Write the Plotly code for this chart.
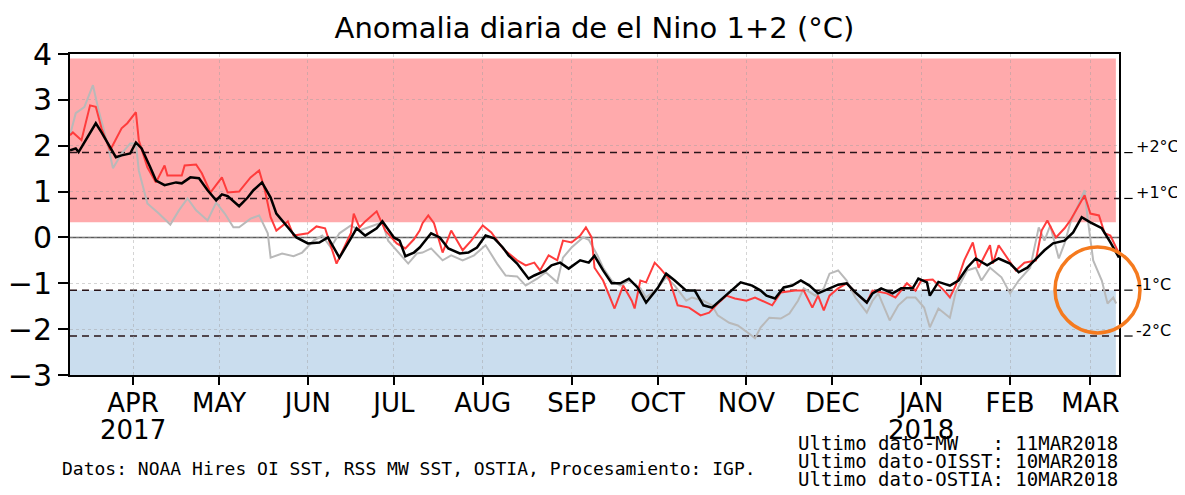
import pandas as pd
import plotly.graph_objects as go

START = "2017-03-10"

# days since 2017-03-10 and anomaly values (°C)
black_days = [0, 2, 3, 6, 9, 11, 14, 16, 18, 21, 23, 25, 28, 30, 33, 37, 39, 42, 45, 48, 51, 53, 55, 59, 62, 64, 67, 70, 72, 76, 79, 83, 87, 90, 94, 98, 100, 103, 107, 109, 113, 115, 117, 120, 122, 126, 129, 132, 136, 139, 142, 145, 148, 151, 153, 156, 160, 162, 166, 168, 171, 174, 178, 181, 183, 186, 189, 192, 195, 198, 201, 205, 208, 211, 215, 218, 221, 224, 228, 231, 234, 238, 241, 243, 246, 249, 252, 255, 258, 261, 265, 268, 271, 274, 278, 280, 283, 287, 290, 294, 296, 299, 300, 303, 307, 310, 313, 316, 320, 324, 328, 331, 334, 337, 340, 343, 347, 350, 353, 356, 360, 363, 366]
black_vals = [1.90, 1.94, 1.86, 2.18, 2.49, 2.29, 1.97, 1.75, 1.79, 1.83, 2.07, 1.94, 1.53, 1.24, 1.14, 1.20, 1.18, 1.31, 1.29, 1.03, 0.81, 0.94, 0.90, 0.68, 0.87, 1.03, 1.20, 0.87, 0.52, 0.22, 0.0, -0.13, -0.11, 0.0, -0.44, -0.02, 0.20, 0.04, 0.20, 0.35, 0.0, -0.07, -0.41, -0.33, -0.22, 0.09, 0.0, -0.24, -0.35, -0.33, -0.22, 0.04, -0.02, -0.22, -0.39, -0.57, -0.90, -0.83, -0.72, -0.61, -0.55, -0.68, -0.50, -0.55, -0.40, -0.72, -1.00, -1.00, -0.90, -1.09, -1.42, -1.11, -0.79, -0.94, -1.16, -1.16, -1.48, -1.53, -1.31, -1.16, -0.98, -1.05, -1.16, -1.27, -1.33, -1.09, -1.05, -0.94, -1.05, -1.22, -1.11, -1.03, -1.00, -1.20, -1.42, -1.22, -1.11, -1.22, -1.11, -1.11, -0.90, -0.98, -1.27, -0.97, -1.05, -0.94, -0.66, -0.46, -0.61, -0.46, -0.57, -0.76, -0.66, -0.46, -0.28, -0.13, -0.07, 0.11, 0.44, 0.33, 0.20, -0.11, -0.44]

red_days = [0, 1, 4, 7, 9, 11, 14, 18, 20, 23, 24, 27, 30, 33, 34, 39, 40, 44, 46, 49, 53, 55, 59, 63, 66, 68, 70, 72, 76, 78, 83, 86, 89, 93, 98, 99, 101, 103, 107, 110, 114, 117, 120, 122, 123, 125, 127, 130, 133, 137, 140, 144, 147, 151, 156, 159, 162, 164, 167, 170, 172, 175, 178, 180, 182, 183, 186, 190, 193, 196, 197, 199, 201, 204, 206, 209, 212, 216, 220, 223, 226, 229, 232, 236, 239, 242, 245, 248, 253, 256, 259, 261, 263, 265, 268, 271, 274, 278, 280, 285, 288, 292, 295, 297, 301, 305, 307, 309, 312, 315, 317, 321, 322, 324, 327, 330, 333, 337, 339, 341, 344, 347, 349, 351, 354, 356, 359, 361, 363, 366]
red_vals = [2.23, 2.29, 2.12, 2.88, 2.85, 2.38, 1.90, 2.38, 2.49, 2.73, 2.12, 1.53, 1.20, 1.57, 1.35, 1.35, 1.57, 1.59, 1.40, 0.98, 1.31, 0.98, 1.00, 1.31, 1.46, 1.03, 0.44, 0.15, 0.35, 0.04, 0.09, 0.24, 0.20, -0.57, 0.09, 0.52, 0.22, 0.35, 0.57, 0.15, -0.13, -0.24, -0.04, 0.15, 0.31, 0.48, 0.31, -0.33, 0.15, -0.28, -0.07, 0.26, 0.11, -0.24, -0.50, -0.61, -0.55, -0.72, -0.39, -0.50, -0.07, -0.11, 0.04, 0.22, 0.0, -0.66, -0.94, -1.55, -1.05, -1.38, -1.55, -0.94, -0.98, -0.55, -0.68, -0.90, -1.48, -1.53, -1.70, -1.64, -1.44, -1.27, -1.33, -1.38, -1.31, -1.40, -1.48, -1.20, -1.16, -1.16, -1.53, -1.27, -1.59, -1.27, -1.11, -1.00, -1.20, -1.42, -1.16, -1.22, -1.31, -1.00, -1.16, -0.94, -0.92, -1.16, -1.31, -1.05, -0.50, -0.11, -0.66, -0.17, -0.57, -0.17, -0.46, -0.72, -0.55, -0.50, 0.15, 0.37, 0.0, 0.20, 0.37, 0.59, 0.92, 0.52, 0.48, 0.09, 0.04, -0.35]

gray_days = [0, 2, 5, 8, 10, 13, 15, 18, 21, 23, 24, 27, 31, 35, 38, 41, 44, 48, 51, 54, 57, 59, 63, 66, 69, 70, 74, 78, 81, 85, 88, 91, 94, 98, 101, 106, 109, 111, 114, 118, 121, 123, 126, 130, 133, 137, 141, 145, 149, 152, 156, 159, 163, 166, 170, 172, 175, 179, 181, 184, 186, 189, 192, 195, 199, 201, 205, 208, 211, 215, 217, 221, 224, 226, 230, 233, 237, 239, 241, 244, 248, 251, 254, 256, 260, 263, 265, 268, 271, 274, 278, 280, 282, 284, 286, 289, 292, 295, 298, 300, 303, 307, 309, 313, 316, 318, 321, 325, 328, 331, 335, 338, 340, 342, 345, 347, 349, 352, 354, 355, 357, 360, 362, 364, 365]
gray_vals = [2.23, 2.71, 2.84, 3.32, 2.77, 2.07, 1.51, 1.83, 2.05, 2.05, 1.46, 0.74, 0.52, 0.28, 0.59, 0.85, 0.59, 0.37, 0.76, 0.52, 0.22, 0.22, 0.41, 0.48, 0.09, -0.44, -0.35, -0.41, -0.33, -0.07, 0.04, -0.22, 0.09, 0.26, 0.15, 0.26, 0.33, -0.07, -0.28, -0.57, -0.35, -0.33, -0.24, -0.50, -0.39, -0.50, -0.39, -0.17, -0.57, -0.83, -0.85, -1.05, -0.90, -0.76, -0.98, -0.44, -0.22, 0.0, -0.05, -0.39, -0.66, -0.94, -1.05, -0.94, -1.11, -1.31, -1.11, -0.87, -1.05, -1.38, -1.31, -1.38, -1.48, -1.70, -1.86, -1.92, -2.10, -2.20, -1.96, -1.75, -1.77, -1.66, -1.38, -1.11, -1.27, -1.11, -0.79, -0.72, -0.94, -1.31, -1.64, -1.38, -1.22, -1.53, -1.81, -1.48, -1.31, -1.31, -1.53, -1.96, -1.55, -1.75, -1.20, -0.72, -0.66, -0.94, -0.66, -0.87, -1.22, -0.94, -0.66, 0.22, -0.07, 0.26, -0.46, -0.13, 0.31, 0.74, 1.03, 0.44, -0.50, -0.94, -1.44, -1.31, -1.44]

month_ticks = ["2017-04-01", "2017-05-01", "2017-06-01", "2017-07-01", "2017-08-01", "2017-09-01",
               "2017-10-01", "2017-11-01", "2017-12-01", "2018-01-01", "2018-02-01", "2018-03-01"]
month_labels = ["APR", "MAY", "JUN", "JUL", "AUG", "SEP", "OCT", "NOV", "DEC", "JAN", "FEB", "MAR"]
year_ticks = ["2017-04-01", "2018-01-01"]
year_labels = ["2017", "2018"]
y_ticks = [-3, -2, -1, 0, 1, 2, 3, 4]

thresholds = [1.85, 0.85, -1.15, -2.15]
threshold_labels = ["+2°C", "+1°C", "-1°C", "-2°C"]
warm_band = (0.33, 3.9)
cold_top = -1.15

footer_text = "Datos: NOAA Hires OI SST, RSS MW SST, OSTIA, Procesamiento: IGP."
last_data_lines = ["Ultimo dato-MW   : 11MAR2018",
                   "Ultimo dato-OISST: 10MAR2018",
                   "Ultimo dato-OSTIA: 10MAR2018"]


def to_dates(days):
    return pd.Timestamp(START) + pd.to_timedelta(days, unit="D")


FONT = "DejaVu Sans"
MONO = "DejaVu Sans Mono"
fig = go.Figure()
fig.add_trace(go.Scatter(x=to_dates(gray_days), y=gray_vals, mode="lines",
                         line=dict(color="rgb(185,185,185)", width=2), name="OSTIA"))
fig.add_trace(go.Scatter(x=to_dates(red_days), y=red_vals, mode="lines",
                         line=dict(color="rgb(255,60,60)", width=2), name="MW"))
fig.add_trace(go.Scatter(x=to_dates(black_days), y=black_vals, mode="lines",
                         line=dict(color="black", width=2.5), name="OISST"))

shapes = []
shapes.append(dict(type="rect", xref="paper", x0=0, x1=0.997, yref="y", y0=warm_band[0], y1=warm_band[1],
                   fillcolor="rgb(255,170,172)", line_width=0, layer="below"))
shapes.append(dict(type="rect", xref="paper", x0=0, x1=0.997, yref="y", y0=-3, y1=cold_top,
                   fillcolor="rgb(202,221,238)", line_width=0, layer="below"))
shapes.append(dict(type="line", xref="paper", x0=0, x1=1, yref="y", y0=0, y1=0,
                   line=dict(color="rgb(90,90,90)", width=1.5), layer="below"))
for t in thresholds:
    shapes.append(dict(type="line", xref="paper", x0=0, x1=1, yref="y", y0=t, y1=t,
                       line=dict(color="rgb(40,20,25)", width=1.5, dash="7px,5px"), layer="below"))
    shapes.append(dict(type="line", xref="paper", x0=1.005, x1=1.013, yref="y", y0=t, y1=t,
                       line=dict(color="black", width=1.2)))
shapes.append(dict(type="circle", xref="paper", yref="paper", x0=0.939, x1=1.020, y0=0.131, y1=0.399,
                   line=dict(color="rgb(245,122,30)", width=3.5)))

annotations = []
for t, lab in zip(thresholds, threshold_labels):
    annotations.append(dict(x=1.014, xref="paper", y=t, yref="y", text=lab, showarrow=False,
                            xanchor="left", yanchor="middle", yshift=6,
                            font=dict(family=FONT, size=16, color="black")))
for xv, lab in zip(year_ticks, year_labels):
    annotations.append(dict(x=xv, xref="x", y=-0.172, yref="paper", text=lab, showarrow=False,
                            xanchor="center", yanchor="middle",
                            font=dict(family=FONT, size=26, color="black")))
annotations.append(dict(x=-0.0095, xref="paper", y=-0.290, yref="paper",
                        text=footer_text, showarrow=False, xanchor="left", yanchor="middle",
                        font=dict(family=MONO, size=18, color="black")))
for i, line in enumerate(last_data_lines):
    annotations.append(dict(x=1.001, xref="paper", y=-0.212 - i * 0.056, yref="paper",
                            text=line.replace(" ", "&nbsp;"), showarrow=False,
                            xanchor="right", yanchor="middle",
                            font=dict(family=MONO, size=19, color="black")))

# the page body adds an 8px offset, so the figure is sized/margined to compensate
fig.update_layout(
    width=1177, height=487,
    margin=dict(l=62, r=66, t=46, b=120, autoexpand=False),
    paper_bgcolor="white", plot_bgcolor="white",
    showlegend=False,
    title=dict(text="Anomalia diaria de el Nino 1+2 (°C)", x=0.5, xref="paper", xanchor="center",
               y=0.959, yref="container", yanchor="middle",
               font=dict(family=FONT, size=29, color="black")),
    shapes=shapes, annotations=annotations,
)
fig.update_xaxes(range=[to_dates(0), to_dates(366)], tickvals=month_ticks, ticktext=month_labels,
                 ticks="outside", ticklen=8, tickwidth=1.5, tickcolor="black", automargin=False,
                 ticklabelstandoff=-4,
                 showline=True, linecolor="black", linewidth=2, mirror=True,
                 showgrid=True, gridcolor="rgba(160,160,160,0.45)", griddash="dot", gridwidth=1,
                 tickfont=dict(family=FONT, size=26, color="black"), zeroline=False)
fig.update_yaxes(range=[-3, 4], tickvals=y_ticks, ticks="outside", ticklen=10, tickwidth=1.5,
                 tickcolor="black", showline=True, linecolor="black", linewidth=2, mirror=True,
                 automargin=False,
                 showgrid=True, gridcolor="rgba(160,160,160,0.45)", griddash="dot", gridwidth=1,
                 tickfont=dict(family=FONT, size=30, color="black"), zeroline=False)

fig.write_html("out.html")
